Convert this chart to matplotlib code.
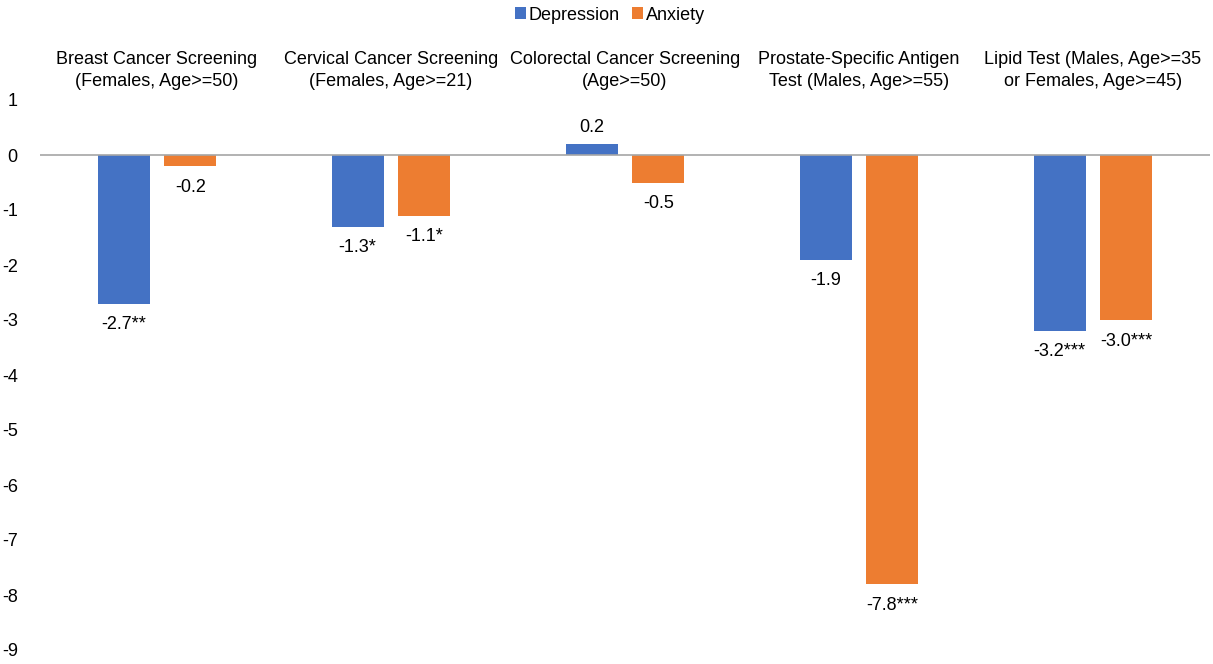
import numpy as np
import matplotlib.pyplot as plt

plt.rcParams['font.family'] = ['Liberation Sans', 'DejaVu Sans']
plt.rcParams['axes.unicode_minus'] = False

categories = ['Breast Cancer Screening\n(Females, Age>=50)',
              'Cervical Cancer Screening\n(Females, Age>=21)',
              'Colorectal Cancer Screening\n(Age>=50)',
              'Prostate-Specific Antigen\nTest (Males, Age>=55)',
              'Lipid Test (Males, Age>=35\nor Females, Age>=45)']
depression = [-2.7, -1.3, 0.2, -1.9, -3.2]
anxiety = [-0.2, -1.1, -0.5, -7.8, -3.0]
dep_labels = ['-2.7**', '-1.3*', '0.2', '-1.9', '-3.2***']
anx_labels = ['-0.2', '-1.1*', '-0.5', '-7.8***', '-3.0***']

blue = '#4472C4'
orange = '#ED7D31'
fs = 13

fig = plt.figure(figsize=(12.13, 6.64), dpi=100)
ax = fig.add_axes([40 / 1213, 1 - 650 / 664, 1170 / 1213, 550 / 664])

ind = np.arange(len(categories))
width = 0.222
off = 0.143
b1 = ax.bar(ind - off, depression, width, color=blue, label='Depression')
b2 = ax.bar(ind + off, anxiety, width, color=orange, label='Anxiety')

for bars, labels in ((b1, dep_labels), (b2, anx_labels)):
    for bar, lab in zip(bars, labels):
        h = bar.get_height()
        x = bar.get_x() + bar.get_width() / 2
        if h >= 0:
            ax.annotate(lab, (x, h), xytext=(0, 6), textcoords='offset points',
                        ha='center', va='bottom', fontsize=fs)
        else:
            ax.annotate(lab, (x, h), xytext=(0, -9), textcoords='offset points',
                        ha='center', va='top', fontsize=fs)

for i, c in enumerate(categories):
    ax.text(i, 1.18, c, ha='center', va='bottom', fontsize=fs, linespacing=1.38)

ax.axhline(0, color='#A6A6A6', lw=1.2)
ax.set_xlim(-0.5, len(categories) - 0.5)
ax.set_ylim(-9, 1)
ax.set_yticks(range(-9, 2))
ax.set_xticks([])
ax.tick_params(axis='y', length=0, pad=16, labelsize=fs)
for s in ax.spines.values():
    s.set_visible(False)

fig.legend(handles=[b1, b2], loc='center', bbox_to_anchor=(610 / 1213, 1 - 15 / 664),
           ncol=2, frameon=False, fontsize=fs, handlelength=0.6, handleheight=0.6,
           handletextpad=0.15, columnspacing=0.7)

fig.savefig('out.png', dpi=100)
